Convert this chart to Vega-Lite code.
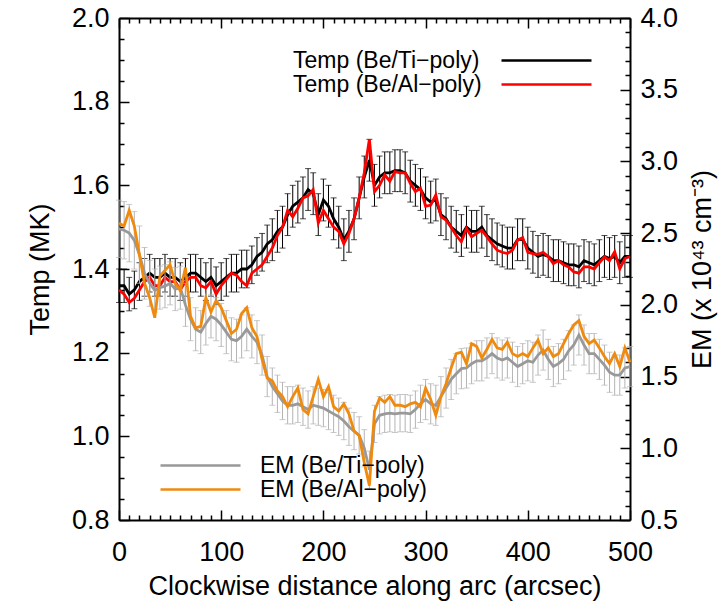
{
"$schema":"https://vega.github.io/schema/vega-lite/v6.json",
"width":511,"height":502,
"autosize":{"type":"none"},
"padding":{"left":119,"top":18,"right":90,"bottom":90},
"background":"white",
"config":{"font":"Liberation Sans","view":{"stroke":null},
 "axis":{"grid":false,"domainColor":"#000","domainWidth":2,"tickColor":"#000","tickWidth":1.5,"labelFont":"Liberation Sans","labelFontSize":27,"labelColor":"#000","titleFont":"Liberation Sans","titleFontSize":27,"titleFontWeight":"normal","titleColor":"#000","labelFlush":false,"labelOverlap":false},
 "legend":{"labelFont":"Liberation Sans","labelFontSize":23,"labelColor":"#000","labelLimit":0,"padding":0,"symbolStrokeWidth":2.5,"symbolFillColor":"transparent"}},
"datasets":{"d":[
{"x":0,"tTi":1.36,"tAl":1.35,"eTi":2.53,"eAl":2.57,"tE":0.04,"eE":0.2},
{"x":5,"tTi":1.36,"tAl":1.34,"eTi":2.52,"eAl":2.55,"tE":0.04,"eE":0.2},
{"x":10,"tTi":1.34,"tAl":1.32,"eTi":2.5,"eAl":2.66,"tE":0.04,"eE":0.2},
{"x":15,"tTi":1.35,"tAl":1.33,"eTi":2.45,"eAl":2.55,"tE":0.045,"eE":0.2},
{"x":20,"tTi":1.37,"tAl":1.35,"eTi":2.35,"eAl":2.35,"tE":0.045,"eE":0.2},
{"x":25,"tTi":1.38,"tAl":1.37,"eTi":2.22,"eAl":2.15,"tE":0.045,"eE":0.18},
{"x":30,"tTi":1.39,"tAl":1.38,"eTi":2.15,"eAl":2.05,"tE":0.045,"eE":0.16},
{"x":35,"tTi":1.38,"tAl":1.36,"eTi":2.1,"eAl":1.91,"tE":0.045,"eE":0.15},
{"x":40,"tTi":1.38,"tAl":1.36,"eTi":2.12,"eAl":2.2,"tE":0.045,"eE":0.15},
{"x":45,"tTi":1.39,"tAl":1.38,"eTi":2.13,"eAl":2.24,"tE":0.045,"eE":0.15},
{"x":50,"tTi":1.38,"tAl":1.37,"eTi":2.15,"eAl":2.28,"tE":0.045,"eE":0.15},
{"x":55,"tTi":1.38,"tAl":1.37,"eTi":2.11,"eAl":2.15,"tE":0.045,"eE":0.15},
{"x":60,"tTi":1.37,"tAl":1.35,"eTi":2.12,"eAl":2.1,"tE":0.045,"eE":0.15},
{"x":65,"tTi":1.38,"tAl":1.37,"eTi":2.0,"eAl":2.26,"tE":0.045,"eE":0.15},
{"x":70,"tTi":1.39,"tAl":1.38,"eTi":1.9,"eAl":1.92,"tE":0.045,"eE":0.15},
{"x":75,"tTi":1.39,"tAl":1.38,"eTi":1.83,"eAl":1.84,"tE":0.045,"eE":0.15},
{"x":80,"tTi":1.38,"tAl":1.36,"eTi":1.81,"eAl":1.85,"tE":0.045,"eE":0.15},
{"x":85,"tTi":1.37,"tAl":1.355,"eTi":1.87,"eAl":2.05,"tE":0.045,"eE":0.15},
{"x":90,"tTi":1.38,"tAl":1.37,"eTi":1.92,"eAl":1.95,"tE":0.045,"eE":0.15},
{"x":95,"tTi":1.36,"tAl":1.34,"eTi":1.9,"eAl":2.03,"tE":0.045,"eE":0.15},
{"x":100,"tTi":1.37,"tAl":1.36,"eTi":1.86,"eAl":1.98,"tE":0.045,"eE":0.15},
{"x":105,"tTi":1.38,"tAl":1.375,"eTi":1.81,"eAl":1.89,"tE":0.045,"eE":0.15},
{"x":110,"tTi":1.39,"tAl":1.39,"eTi":1.76,"eAl":1.8,"tE":0.045,"eE":0.15},
{"x":115,"tTi":1.39,"tAl":1.385,"eTi":1.75,"eAl":1.83,"tE":0.045,"eE":0.15},
{"x":120,"tTi":1.4,"tAl":1.37,"eTi":1.78,"eAl":1.94,"tE":0.045,"eE":0.15},
{"x":125,"tTi":1.4,"tAl":1.36,"eTi":1.83,"eAl":1.98,"tE":0.045,"eE":0.15},
{"x":130,"tTi":1.41,"tAl":1.39,"eTi":1.78,"eAl":1.84,"tE":0.045,"eE":0.15},
{"x":135,"tTi":1.43,"tAl":1.4,"eTi":1.74,"eAl":1.78,"tE":0.045,"eE":0.15},
{"x":140,"tTi":1.44,"tAl":1.41,"eTi":1.65,"eAl":1.62,"tE":0.045,"eE":0.14},
{"x":145,"tTi":1.46,"tAl":1.43,"eTi":1.5,"eAl":1.49,"tE":0.045,"eE":0.14},
{"x":150,"tTi":1.47,"tAl":1.45,"eTi":1.43,"eAl":1.47,"tE":0.05,"eE":0.13},
{"x":155,"tTi":1.49,"tAl":1.48,"eTi":1.38,"eAl":1.4,"tE":0.05,"eE":0.13},
{"x":160,"tTi":1.5,"tAl":1.5,"eTi":1.33,"eAl":1.36,"tE":0.05,"eE":0.13},
{"x":165,"tTi":1.53,"tAl":1.54,"eTi":1.3,"eAl":1.29,"tE":0.05,"eE":0.13},
{"x":170,"tTi":1.55,"tAl":1.525,"eTi":1.3,"eAl":1.36,"tE":0.05,"eE":0.13},
{"x":175,"tTi":1.56,"tAl":1.545,"eTi":1.31,"eAl":1.42,"tE":0.05,"eE":0.13},
{"x":180,"tTi":1.57,"tAl":1.57,"eTi":1.29,"eAl":1.27,"tE":0.05,"eE":0.13},
{"x":185,"tTi":1.59,"tAl":1.575,"eTi":1.27,"eAl":1.24,"tE":0.05,"eE":0.13},
{"x":190,"tTi":1.58,"tAl":1.59,"eTi":1.3,"eAl":1.36,"tE":0.05,"eE":0.13},
{"x":195,"tTi":1.53,"tAl":1.51,"eTi":1.29,"eAl":1.48,"tE":0.05,"eE":0.13},
{"x":200,"tTi":1.565,"tAl":1.54,"eTi":1.28,"eAl":1.36,"tE":0.05,"eE":0.13},
{"x":205,"tTi":1.55,"tAl":1.52,"eTi":1.26,"eAl":1.43,"tE":0.05,"eE":0.13},
{"x":210,"tTi":1.52,"tAl":1.5,"eTi":1.24,"eAl":1.29,"tE":0.05,"eE":0.13},
{"x":215,"tTi":1.5,"tAl":1.49,"eTi":1.22,"eAl":1.26,"tE":0.05,"eE":0.13},
{"x":220,"tTi":1.47,"tAl":1.46,"eTi":1.19,"eAl":1.31,"tE":0.05,"eE":0.13},
{"x":225,"tTi":1.49,"tAl":1.485,"eTi":1.15,"eAl":1.24,"tE":0.05,"eE":0.13},
{"x":230,"tTi":1.52,"tAl":1.52,"eTi":1.12,"eAl":1.12,"tE":0.05,"eE":0.13},
{"x":235,"tTi":1.57,"tAl":1.57,"eTi":1.09,"eAl":1.09,"tE":0.05,"eE":0.13},
{"x":240,"tTi":1.62,"tAl":1.63,"eTi":1.0,"eAl":0.9,"tE":0.05,"eE":0.13},
{"x":245,"tTi":1.66,"tAl":1.71,"eTi":0.85,"eAl":0.74,"tE":0.05,"eE":0.13},
{"x":250,"tTi":1.6,"tAl":1.585,"eTi":1.17,"eAl":1.26,"tE":0.05,"eE":0.13},
{"x":255,"tTi":1.62,"tAl":1.6,"eTi":1.23,"eAl":1.35,"tE":0.05,"eE":0.13},
{"x":260,"tTi":1.63,"tAl":1.625,"eTi":1.24,"eAl":1.32,"tE":0.05,"eE":0.13},
{"x":265,"tTi":1.63,"tAl":1.61,"eTi":1.245,"eAl":1.36,"tE":0.05,"eE":0.13},
{"x":270,"tTi":1.635,"tAl":1.633,"eTi":1.24,"eAl":1.3,"tE":0.05,"eE":0.13},
{"x":275,"tTi":1.635,"tAl":1.63,"eTi":1.245,"eAl":1.3,"tE":0.05,"eE":0.13},
{"x":280,"tTi":1.63,"tAl":1.63,"eTi":1.245,"eAl":1.29,"tE":0.05,"eE":0.13},
{"x":285,"tTi":1.61,"tAl":1.605,"eTi":1.24,"eAl":1.31,"tE":0.05,"eE":0.13},
{"x":290,"tTi":1.6,"tAl":1.585,"eTi":1.27,"eAl":1.32,"tE":0.05,"eE":0.13},
{"x":295,"tTi":1.59,"tAl":1.593,"eTi":1.31,"eAl":1.29,"tE":0.05,"eE":0.13},
{"x":300,"tTi":1.57,"tAl":1.55,"eTi":1.34,"eAl":1.42,"tE":0.05,"eE":0.14},
{"x":305,"tTi":1.56,"tAl":1.553,"eTi":1.31,"eAl":1.34,"tE":0.05,"eE":0.14},
{"x":310,"tTi":1.565,"tAl":1.577,"eTi":1.3,"eAl":1.23,"tE":0.05,"eE":0.14},
{"x":315,"tTi":1.53,"tAl":1.525,"eTi":1.36,"eAl":1.36,"tE":0.05,"eE":0.14},
{"x":320,"tTi":1.52,"tAl":1.517,"eTi":1.42,"eAl":1.45,"tE":0.05,"eE":0.14},
{"x":325,"tTi":1.5,"tAl":1.5,"eTi":1.48,"eAl":1.56,"tE":0.05,"eE":0.14},
{"x":330,"tTi":1.49,"tAl":1.48,"eTi":1.52,"eAl":1.66,"tE":0.05,"eE":0.14},
{"x":335,"tTi":1.48,"tAl":1.465,"eTi":1.555,"eAl":1.67,"tE":0.05,"eE":0.14},
{"x":340,"tTi":1.5,"tAl":1.497,"eTi":1.56,"eAl":1.59,"tE":0.05,"eE":0.14},
{"x":345,"tTi":1.49,"tAl":1.477,"eTi":1.59,"eAl":1.73,"tE":0.05,"eE":0.14},
{"x":350,"tTi":1.49,"tAl":1.485,"eTi":1.61,"eAl":1.71,"tE":0.05,"eE":0.14},
{"x":355,"tTi":1.5,"tAl":1.493,"eTi":1.61,"eAl":1.63,"tE":0.05,"eE":0.14},
{"x":360,"tTi":1.48,"tAl":1.477,"eTi":1.63,"eAl":1.69,"tE":0.05,"eE":0.14},
{"x":365,"tTi":1.47,"tAl":1.46,"eTi":1.66,"eAl":1.76,"tE":0.05,"eE":0.14},
{"x":370,"tTi":1.46,"tAl":1.445,"eTi":1.63,"eAl":1.7,"tE":0.05,"eE":0.14},
{"x":375,"tTi":1.455,"tAl":1.44,"eTi":1.615,"eAl":1.69,"tE":0.05,"eE":0.14},
{"x":380,"tTi":1.45,"tAl":1.437,"eTi":1.63,"eAl":1.74,"tE":0.05,"eE":0.14},
{"x":385,"tTi":1.45,"tAl":1.445,"eTi":1.6,"eAl":1.66,"tE":0.05,"eE":0.14},
{"x":390,"tTi":1.47,"tAl":1.469,"eTi":1.57,"eAl":1.64,"tE":0.05,"eE":0.14},
{"x":395,"tTi":1.47,"tAl":1.475,"eTi":1.59,"eAl":1.66,"tE":0.05,"eE":0.14},
{"x":400,"tTi":1.45,"tAl":1.44,"eTi":1.61,"eAl":1.64,"tE":0.05,"eE":0.14},
{"x":405,"tTi":1.44,"tAl":1.437,"eTi":1.6,"eAl":1.7,"tE":0.05,"eE":0.14},
{"x":410,"tTi":1.43,"tAl":1.435,"eTi":1.65,"eAl":1.755,"tE":0.05,"eE":0.14},
{"x":415,"tTi":1.435,"tAl":1.44,"eTi":1.685,"eAl":1.66,"tE":0.05,"eE":0.14},
{"x":420,"tTi":1.43,"tAl":1.43,"eTi":1.62,"eAl":1.7,"tE":0.05,"eE":0.14},
{"x":425,"tTi":1.42,"tAl":1.413,"eTi":1.57,"eAl":1.64,"tE":0.05,"eE":0.14},
{"x":430,"tTi":1.42,"tAl":1.42,"eTi":1.59,"eAl":1.66,"tE":0.05,"eE":0.14},
{"x":435,"tTi":1.415,"tAl":1.41,"eTi":1.62,"eAl":1.73,"tE":0.05,"eE":0.14},
{"x":440,"tTi":1.41,"tAl":1.405,"eTi":1.68,"eAl":1.8,"tE":0.05,"eE":0.14},
{"x":445,"tTi":1.41,"tAl":1.393,"eTi":1.72,"eAl":1.86,"tE":0.05,"eE":0.14},
{"x":450,"tTi":1.405,"tAl":1.39,"eTi":1.79,"eAl":1.89,"tE":0.05,"eE":0.14},
{"x":455,"tTi":1.42,"tAl":1.405,"eTi":1.72,"eAl":1.78,"tE":0.05,"eE":0.14},
{"x":460,"tTi":1.415,"tAl":1.405,"eTi":1.66,"eAl":1.73,"tE":0.05,"eE":0.14},
{"x":465,"tTi":1.41,"tAl":1.4,"eTi":1.66,"eAl":1.755,"tE":0.05,"eE":0.14},
{"x":470,"tTi":1.42,"tAl":1.415,"eTi":1.62,"eAl":1.7,"tE":0.05,"eE":0.14},
{"x":475,"tTi":1.43,"tAl":1.429,"eTi":1.58,"eAl":1.64,"tE":0.05,"eE":0.14},
{"x":480,"tTi":1.425,"tAl":1.42,"eTi":1.53,"eAl":1.59,"tE":0.05,"eE":0.14},
{"x":485,"tTi":1.43,"tAl":1.441,"eTi":1.51,"eAl":1.66,"tE":0.05,"eE":0.14},
{"x":490,"tTi":1.415,"tAl":1.4,"eTi":1.51,"eAl":1.57,"tE":0.05,"eE":0.14},
{"x":495,"tTi":1.43,"tAl":1.425,"eTi":1.56,"eAl":1.7,"tE":0.05,"eE":0.14},
{"x":500,"tTi":1.43,"tAl":1.43,"eTi":1.57,"eAl":1.6,"tE":0.05,"eE":0.14}
]},
"resolve":{"scale":{"y":"independent","color":"independent"},"axis":{"x":"independent","y":"independent"}},
"layer":[
 {"resolve":{"axis":{"x":"independent","y":"independent"}},
  "layer":[
  {"data":{"name":"d"},
   "mark":{"type":"errorbar","color":"#000","ticks":{"size":6,"color":"#000","strokeWidth":1},"rule":{"strokeWidth":1}},
   "encoding":{
    "x":{"field":"x","type":"quantitative","scale":{"domain":[0,500],"nice":false,"zero":false},
      "axis":{"orient":"bottom","values":[0,100,200,300,400,500],"tickSize":-10,"labelPadding":29,"title":"Clockwise distance along arc (arcsec)","titlePadding":8}},
    "y":{"field":"tTi","type":"quantitative","scale":{"domain":[0.8,2.0],"nice":false,"zero":false},
      "axis":{"orient":"left","values":[0.8,1.0,1.2,1.4,1.6,1.8,2.0],"format":".1f","tickSize":-10,"labelPadding":20,"title":"Temp (MK)","titlePadding":17}},
    "yError":{"field":"tE"}}},
  {"data":{"name":"d"},
   "mark":{"type":"line","strokeWidth":2.8},
   "encoding":{
    "x":{"field":"x","type":"quantitative","scale":{"domain":[0,500],"nice":false,"zero":false},
      "axis":{"orient":"top","values":[0,100,200,300,400,500],"tickSize":-10,"labels":false,"title":null}},
    "y":{"field":"tTi","type":"quantitative","scale":{"domain":[0.8,2.0],"nice":false,"zero":false},
      "axis":{"orient":"left","values":[0.85,0.9,0.95,1.05,1.1,1.15,1.25,1.3,1.35,1.45,1.5,1.55,1.65,1.7,1.75,1.85,1.9,1.95],"tickSize":-5,"labels":false,"title":null,"domain":false}},
    "color":{"datum":"Temp (Be/Ti−poly)","type":"nominal",
      "scale":{"domain":["Temp (Be/Ti−poly)","Temp (Be/Al−poly)"],"range":["#000000","#ff0000"]},
      "legend":{"title":null,"orient":"none","legendX":171,"legendY":31,"symbolType":"M20,0H29","symbolSize":400,"labelOffset":-20,"rowPadding":0}}}},
  {"data":{"name":"d"},
   "mark":{"type":"line","strokeWidth":2.8},
   "encoding":{
    "x":{"field":"x","type":"quantitative","scale":{"domain":[0,500],"nice":false,"zero":false},
      "axis":{"orient":"bottom","values":[10,20,30,40,50,60,70,80,90,110,120,130,140,150,160,170,180,190,210,220,230,240,250,260,270,280,290,310,320,330,340,350,360,370,380,390,410,420,430,440,450,460,470,480,490],"tickSize":-5,"labels":false,"title":null,"domain":false}},
    "y":{"field":"tAl","type":"quantitative","scale":{"domain":[0.8,2.0],"nice":false,"zero":false},"axis":null},
    "color":{"datum":"Temp (Be/Al−poly)","type":"nominal"}}}
 ]},
 {"resolve":{"axis":{"x":"independent","y":"independent"}},
  "layer":[
  {"data":{"name":"d"},
   "mark":{"type":"errorbar","color":"#b4b4b4","ticks":{"size":6,"color":"#b4b4b4","strokeWidth":1},"rule":{"strokeWidth":1}},
   "encoding":{
    "x":{"field":"x","type":"quantitative","scale":{"domain":[0,500],"nice":false,"zero":false},
      "axis":{"orient":"top","values":[10,20,30,40,50,60,70,80,90,110,120,130,140,150,160,170,180,190,210,220,230,240,250,260,270,280,290,310,320,330,340,350,360,370,380,390,410,420,430,440,450,460,470,480,490],"tickSize":-5,"labels":false,"title":null,"domain":false}},
    "y":{"field":"eTi","type":"quantitative","scale":{"domain":[0.5,4.0],"nice":false,"zero":false},
      "axis":{"orient":"right","values":[0.5,1.0,1.5,2.0,2.5,3.0,3.5,4.0],"format":".1f","tickSize":-10,"labelPadding":20,"title":"EM (x 10⁴³ cm⁻³)","titleAngle":-90,"titleBaseline":"top","titlePadding":12}},
    "yError":{"field":"eE"}}},
  {"data":{"name":"d"},
   "mark":{"type":"line","strokeWidth":2.8},
   "encoding":{
    "x":{"field":"x","type":"quantitative","scale":{"domain":[0,500],"nice":false,"zero":false},"axis":null},
    "y":{"field":"eTi","type":"quantitative","scale":{"domain":[0.5,4.0],"nice":false,"zero":false},
      "axis":{"orient":"right","values":[0.6,0.7,0.8,0.9,1.1,1.2,1.3,1.4,1.6,1.7,1.8,1.9,2.1,2.2,2.3,2.4,2.6,2.7,2.8,2.9,3.1,3.2,3.3,3.4,3.6,3.7,3.8,3.9],"tickSize":-5,"labels":false,"title":null,"domain":false}},
    "color":{"datum":"EM (Be/Ti−poly)","type":"nominal",
      "scale":{"domain":["EM (Be/Ti−poly)","EM (Be/Al−poly)"],"range":["#999999","#ef8a0e"]},
      "legend":{"title":null,"orient":"none","legendX":40,"legendY":436,"symbolType":"M-1,0H7","symbolSize":400,"labelOffset":78,"rowPadding":-1}}}},
  {"data":{"name":"d"},
   "mark":{"type":"line","strokeWidth":2.8},
   "encoding":{
    "x":{"field":"x","type":"quantitative","scale":{"domain":[0,500],"nice":false,"zero":false},"axis":null},
    "y":{"field":"eAl","type":"quantitative","scale":{"domain":[0.5,4.0],"nice":false,"zero":false},"axis":null},
    "color":{"datum":"EM (Be/Al−poly)","type":"nominal"}}}
 ]}
]
}
